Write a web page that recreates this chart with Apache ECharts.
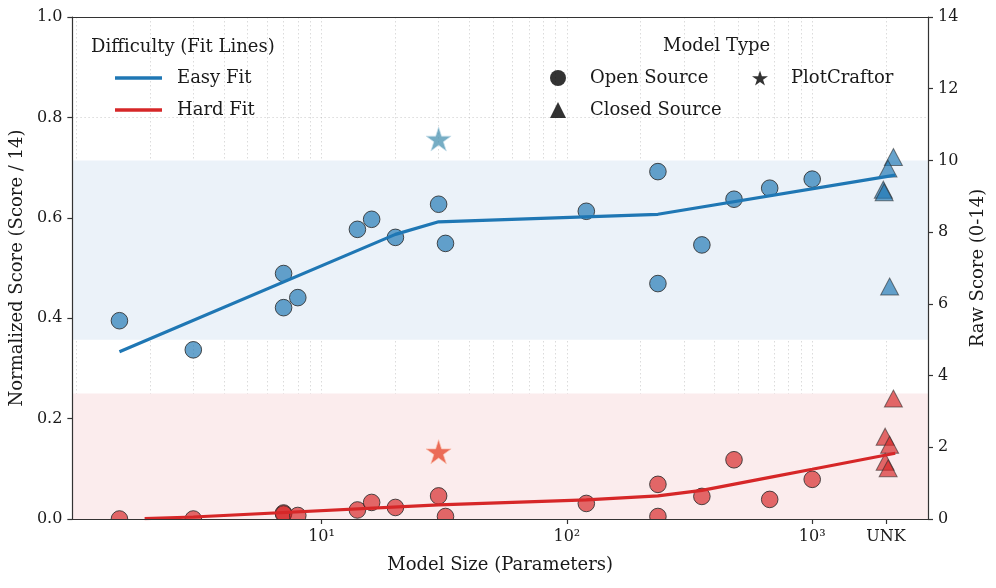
<!DOCTYPE html>
<html><head><meta charset="utf-8">
<script src="https://cdn.jsdelivr.net/npm/echarts@6/dist/echarts.min.js"></script>
<style>html,body{margin:0;padding:0;background:#fff}#c{width:996px;height:588px}</style>
</head><body><div id="c"></div>
<script>
// ---------------- data ----------------
// model sizes in billions of parameters (closed-source models sit near "UNK", jittered)
const openSizes   = [1.5, 3, 7, 7, 8, 14, 16, 20, 30, 32, 120, 235, 235, 355, 480, 671, 1000];
const easyOpen    = [0.395, 0.337, 0.489, 0.421, 0.441, 0.577, 0.597, 0.561, 0.627, 0.549, 0.613, 0.692, 0.469, 0.546, 0.637, 0.659, 0.677];
const hardOpen    = [0.000, 0.000, 0.012, 0.010, 0.007, 0.018, 0.033, 0.023, 0.046, 0.005, 0.031, 0.069, 0.005, 0.045, 0.118, 0.039, 0.079];
const closedEasySizes = [2143, 2036, 1950, 1965, 2068];
const closedEasy      = [0.721, 0.698, 0.656, 0.651, 0.463];
const closedHardSizes = [2143, 1983, 2068, 1983, 2040];
const closedHard      = [0.240, 0.164, 0.148, 0.114, 0.101];
const plotCraftorSizes = [30];
const plotCraftorEasy  = [0.757];
const plotCraftorHard  = [0.134];
const easyFitSizes = [1.5, 20, 30, 235, 2180];
const easyFit      = [0.333, 0.567, 0.592, 0.607, 0.685];
const hardFitSizes = [1.9, 3, 30, 120, 235, 355, 671, 1000, 2180];
const hardFit      = [0.0008, 0.004, 0.028, 0.038, 0.046, 0.057, 0.083, 0.099, 0.131];
const easyBandRaw = [5, 10];
const hardBandRaw = [0, 3.5];
const RAW_MAX = 14;
const xDomain = [0.964, 2965];
const majorTicks = [10, 100, 1000, 2000];
const majorTickLabels = ['10\u00b9', '10\u00b2', '10\u00b3', 'UNK'];

// ---------------- helpers ----------------
const FONT = 'DejaVu Serif';
const TXT = '#1a1a1a';
const lx = v => Math.log10(v);
const XMIN = lx(xDomain[0]), XMAX = lx(xDomain[1]);
const minorVals = [];
for (let n = 0; n <= 3; n++) for (let k = 1; k <= 9; k++) {
  const v = lx(k * Math.pow(10, n));
  if (v >= XMIN && v <= XMAX) minorVals.push(v);
}
const majorVals = majorTicks.map(lx);
let starPts = [];
for (let i = 0; i < 10; i++) {
  const a = -Math.PI / 2 + i * Math.PI / 5;
  const r = i % 2 ? 0.382 : 1;
  starPts.push((r * Math.cos(a)).toFixed(4) + ' ' + (r * Math.sin(a)).toFixed(4));
}
const STAR = 'path://M' + starPts.join(' L') + ' Z';
const pts = (xs, ys) => xs.map((s, i) => [lx(s), ys[i]]);
const spine = {color: '#333', width: 1.2};
const circleSeries = (name, data, fill) => ({
  type: 'custom', name, z: 3, clip: true, data, encode: {x: 0, y: 1},
  renderItem: (params, api) => {
    const p = api.coord([api.value(0), api.value(1)]);
    return {type: 'circle', shape: {cx: p[0], cy: p[1], r: 8.3},
            style: {fill, stroke: 'rgba(45,45,45,0.85)', lineWidth: 1}};
  }
});

const chart = echarts.init(document.getElementById('c'));
chart.setOption({
  animation: false,
  backgroundColor: '#fff',
  textStyle: {fontFamily: FONT},
  grid: {left: 68, right: 68, top: 17, bottom: 69},
  title: [
    {text: 'Difficulty (Fit Lines)', left: 91, top: 37, padding: 0,
     textStyle: {fontFamily: FONT, fontSize: 18, fontWeight: 'normal', color: TXT, lineHeight: 20}},
    {text: 'Model Type', left: 663, top: 36, padding: 0,
     textStyle: {fontFamily: FONT, fontSize: 18, fontWeight: 'normal', color: TXT, lineHeight: 20}}
  ],
  legend: [
    {data: [{name: 'Easy Fit', icon: 'rect'}, {name: 'Hard Fit', icon: 'rect'}],
     orient: 'vertical', left: 115, top: 68, itemWidth: 47, itemHeight: 3.5, itemGap: 12, padding: 0,
     selectedMode: false,
     textStyle: {fontFamily: FONT, fontSize: 18, color: TXT, lineHeight: 20, padding: [0, 0, 0, 10]}},
    {data: [{name: 'Open Source', icon: 'circle'}, {name: 'Closed Source', icon: 'triangle'}],
     orient: 'vertical', left: 550, top: 68, itemWidth: 16, itemHeight: 16, itemGap: 12, padding: 0,
     selectedMode: false,
     textStyle: {fontFamily: FONT, fontSize: 18, color: TXT, lineHeight: 20, padding: [0, 0, 0, 19]}},
    {data: [{name: 'PlotCraftor', icon: STAR}],
     orient: 'vertical', left: 752, top: 68, itemWidth: 16, itemHeight: 16, itemGap: 12, padding: 0,
     selectedMode: false,
     textStyle: {fontFamily: FONT, fontSize: 18, color: TXT, lineHeight: 20, padding: [0, 0, 0, 18]}}
  ],
  xAxis: [
    {type: 'value', min: XMIN, max: XMAX, position: 'bottom', z: 5,
     name: 'Model Size (Parameters)', nameLocation: 'middle', nameGap: 37,
     nameTextStyle: {fontFamily: FONT, fontSize: 18, color: TXT},
     axisLine: {show: true, onZero: false, lineStyle: spine},
     axisTick: {show: true, customValues: majorVals, length: 5, lineStyle: spine},
     axisLabel: {customValues: majorVals, fontFamily: FONT, fontSize: 16, color: TXT, margin: 10,
       formatter: v => { const i = majorVals.findIndex(t => Math.abs(t - v) < 1e-6); return i >= 0 ? majorTickLabels[i] : ''; }},
     splitLine: {show: false}},
    {type: 'value', min: XMIN, max: XMAX, position: 'bottom', z: 1,
     axisLine: {show: false}, axisTick: {show: false, customValues: minorVals},
     axisLabel: {show: false},
     splitLine: {show: true, lineStyle: {type: [1.5, 2.5], color: 'rgba(175,175,175,0.5)', width: 0.9}}},
    {type: 'value', min: XMIN, max: XMAX, position: 'top', z: 5,
     axisLine: {show: true, onZero: false, lineStyle: spine}, axisTick: {show: false},
     axisLabel: {show: false}, splitLine: {show: false}}
  ],
  yAxis: [
    {type: 'value', min: 0, max: 1, interval: 0.2, position: 'left', z: 5,
     name: 'Normalized Score (Score / 14)', nameLocation: 'middle', nameGap: 38,
     nameTextStyle: {fontFamily: FONT, fontSize: 18, color: TXT},
     axisLine: {show: true, onZero: false, lineStyle: spine},
     axisTick: {show: true, length: 5, lineStyle: spine},
     axisLabel: {fontFamily: FONT, fontSize: 16, color: TXT, margin: 10, formatter: v => v.toFixed(1)},
     splitLine: {show: false}},
    {type: 'value', min: 0, max: RAW_MAX, interval: 2, position: 'right', z: 5,
     name: 'Raw Score (0-14)', nameLocation: 'middle', nameGap: 39,
     nameTextStyle: {fontFamily: FONT, fontSize: 18, color: TXT},
     axisLine: {show: true, onZero: false, lineStyle: spine},
     axisTick: {show: true, length: 5, lineStyle: spine},
     axisLabel: {fontFamily: FONT, fontSize: 16, color: TXT, margin: 10},
     splitLine: {show: false}},
    {type: 'value', min: 0, max: 1, interval: 0.2, position: 'left', z: 1,
     axisLine: {show: false}, axisTick: {show: false}, axisLabel: {show: false},
     splitLine: {show: true, lineStyle: {type: [1.5, 2.5], color: 'rgba(175,175,175,0.5)', width: 0.9}}}
  ],
  series: [
    {type: 'scatter', name: 'bands', data: [], z: 0, silent: true,
     markArea: {silent: true, data: [
       [{yAxis: easyBandRaw[0] / RAW_MAX, itemStyle: {color: '#ebf2f9'}}, {yAxis: easyBandRaw[1] / RAW_MAX}],
       [{yAxis: hardBandRaw[0] / RAW_MAX, itemStyle: {color: '#fbeced'}}, {yAxis: hardBandRaw[1] / RAW_MAX}]
     ]}},
    circleSeries('easy-open', pts(openSizes, easyOpen), 'rgba(31,119,180,0.68)'),
    circleSeries('hard-open', pts(openSizes, hardOpen), 'rgba(214,39,40,0.68)'),
    {type: 'scatter', name: 'easy-closed', z: 3, symbol: 'triangle', symbolSize: [18, 17],
     itemStyle: {color: 'rgba(31,119,180,0.68)', borderColor: 'rgba(45,45,45,0.6)', borderWidth: 1, opacity: 1},
     data: pts(closedEasySizes, closedEasy)},
    {type: 'scatter', name: 'hard-closed', z: 3, symbol: 'triangle', symbolSize: [18, 17],
     itemStyle: {color: 'rgba(214,39,40,0.68)', borderColor: 'rgba(45,45,45,0.6)', borderWidth: 1, opacity: 1},
     data: pts(closedHardSizes, closedHard)},
    {type: 'scatter', name: 'pc-easy', z: 3, symbol: STAR, symbolSize: [25, 24],
     itemStyle: {color: 'rgba(80,150,180,0.78)', borderColor: 'rgba(200,225,235,0.9)', borderWidth: 0.8, opacity: 1},
     data: pts(plotCraftorSizes, plotCraftorEasy)},
    {type: 'scatter', name: 'pc-hard', z: 3, symbol: STAR, symbolSize: [25, 24],
     itemStyle: {color: 'rgba(232,85,60,0.85)', borderColor: 'rgba(250,190,170,0.9)', borderWidth: 0.8, opacity: 1},
     data: pts(plotCraftorSizes, plotCraftorHard)},
    {type: 'line', name: 'Easy Fit', z: 4, color: '#1f77b4', symbol: 'none', showSymbol: false,
     lineStyle: {color: '#1f77b4', width: 3.2}, itemStyle: {color: '#1f77b4'},
     data: pts(easyFitSizes, easyFit)},
    {type: 'line', name: 'Hard Fit', z: 4, color: '#d62728', symbol: 'none', showSymbol: false,
     lineStyle: {color: '#d62728', width: 3.2}, itemStyle: {color: '#d62728'},
     data: pts(hardFitSizes, hardFit)},
    {type: 'scatter', name: 'Open Source', symbol: 'circle', itemStyle: {color: '#000'}, data: []},
    {type: 'scatter', name: 'Closed Source', symbol: 'triangle', itemStyle: {color: '#000'}, data: []},
    {type: 'scatter', name: 'PlotCraftor', symbol: STAR, itemStyle: {color: '#000'}, data: []}
  ]
});
</script></body></html>
